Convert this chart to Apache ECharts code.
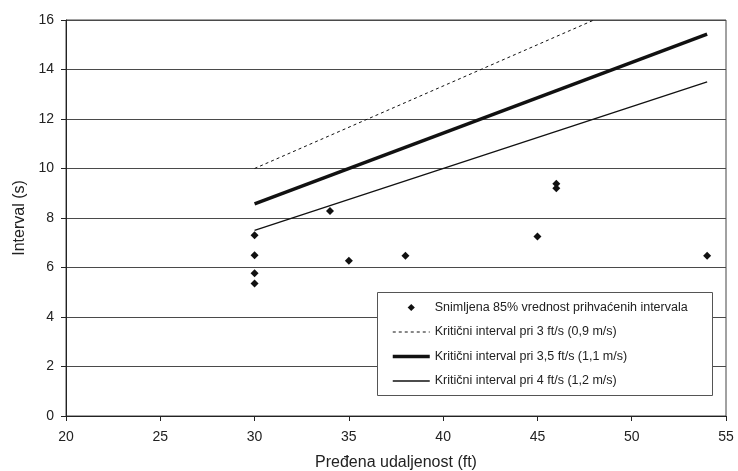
<!DOCTYPE html>
<html>
<head>
<meta charset="utf-8">
<script src="https://cdn.jsdelivr.net/npm/echarts@6/dist/echarts.min.js"></script>
<style>
  html, body { margin: 0; padding: 0; background: #fff; }
  #chart { width: 738px; height: 471px; }
</style>
</head>
<body>
<div id="chart"></div>
<script>
// Observed 85% accepted gaps
const obsDistance = [30, 30, 30, 30, 34, 35, 38, 45, 46, 46, 54];
const obsInterval = [7.3, 6.5, 5.77, 5.35, 8.28, 6.27, 6.47, 7.25, 9.38, 9.2, 6.47];

// Critical gap lines (start / end points)
const crit3Distance = [30, 48];
const crit3Interval = [10, 16];
const crit35Distance = [30, 54];
const crit35Interval = [8.57, 15.43];
const crit4Distance = [30, 54];
const crit4Interval = [7.5, 13.5];

const seriesNames = [
  'Snimljena 85% vrednost prihvaćenih intervala',
  'Kritični interval pri 3 ft/s (0,9 m/s)',
  'Kritični interval pri 3,5 ft/s (1,1 m/s)',
  'Kritični interval pri 4 ft/s (1,2 m/s)'
];

const zip = (xs, ys) => xs.map((x, i) => [x, ys[i]]);

const FONT = 'Liberation Sans, Arial, sans-serif';
const chart = echarts.init(document.getElementById('chart'), null, { renderer: 'canvas' });

// Line styles shared by the series and their legend icons
const lineStyles = [
  null,
  { color: '#111', width: 1, type: [3, 3] },
  { color: '#111', width: 3.5 },
  { color: '#111', width: 1.3 }
];

// Line-only legend entries: hide the marker drawn in the middle of the icon
const legendData = seriesNames.map((name, i) =>
  i === 0 ? { name } : { name, itemStyle: { opacity: 0 }, lineStyle: lineStyles[i] }
);

chart.setOption({
  animation: false,
  backgroundColor: '#fff',
  textStyle: { fontFamily: FONT },
  grid: {
    left: 66, right: 12, top: 20, bottom: 55,
    outerBoundsMode: 'none',
    containLabel: false,
    show: true, borderColor: '#444', borderWidth: 1
  },
  xAxis: {
    type: 'value', min: 20, max: 55, interval: 5,
    name: 'Pređena udaljenost (ft)', nameLocation: 'middle', nameGap: 39,
    nameTextStyle: { fontSize: 16, color: '#222', fontFamily: FONT },
    axisLine: { show: true, lineStyle: { color: '#222', width: 1 } },
    axisTick: { show: true, length: 5, lineStyle: { color: '#222' } },
    axisLabel: { fontSize: 14, color: '#222', margin: 14, fontFamily: FONT },
    splitLine: { show: false }
  },
  yAxis: {
    type: 'value', min: 0, max: 16, interval: 2,
    name: 'Interval (s)', nameLocation: 'middle', nameGap: 33,
    nameTextStyle: { fontSize: 16, color: '#222', fontFamily: FONT },
    axisLine: { show: true, lineStyle: { color: '#222', width: 1 } },
    axisTick: { show: true, length: 5, lineStyle: { color: '#222' } },
    axisLabel: { fontSize: 14, color: '#222', margin: 12, fontFamily: FONT },
    splitLine: { show: true, lineStyle: { color: '#4a4a4a', width: 1 } }
  },
  legend: {
    orient: 'vertical',
    left: 386, top: 296,
    itemWidth: 37, itemHeight: 9, itemGap: 11.5,
    z: 5,
    textStyle: { fontSize: 12.5, color: '#222', fontFamily: FONT },
    data: legendData
  },
  graphic: [{
    type: 'rect', z: 4,
    shape: { x: 377.5, y: 292.5, width: 335, height: 103 },
    style: { fill: '#fff', stroke: '#555', lineWidth: 1 }
  }],
  series: [
    {
      name: seriesNames[0], type: 'line', data: zip(obsDistance, obsInterval),
      symbol: 'diamond', symbolSize: 8, showSymbol: true,
      itemStyle: { color: '#111' },
      lineStyle: { width: 0, opacity: 0 }, z: 3
    },
    {
      name: seriesNames[1], type: 'line', data: zip(crit3Distance, crit3Interval),
      symbol: 'none', lineStyle: lineStyles[1],
      itemStyle: { color: '#111' }
    },
    {
      name: seriesNames[2], type: 'line', data: zip(crit35Distance, crit35Interval),
      symbol: 'none', lineStyle: lineStyles[2],
      itemStyle: { color: '#111' }
    },
    {
      name: seriesNames[3], type: 'line', data: zip(crit4Distance, crit4Interval),
      symbol: 'none', lineStyle: lineStyles[3],
      itemStyle: { color: '#111' }
    }
  ]
});
</script>
</body>
</html>
